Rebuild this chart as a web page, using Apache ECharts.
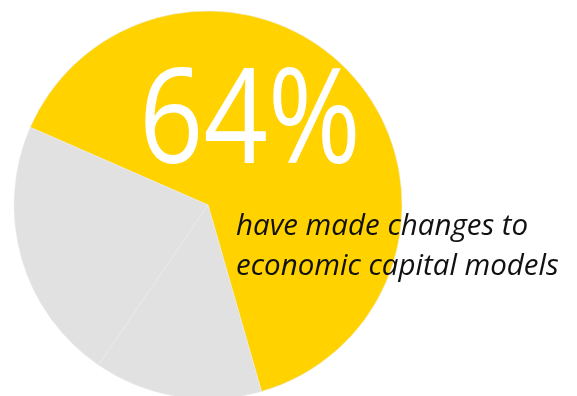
<!DOCTYPE html>
<html>
<head>
<meta charset="utf-8">
<script src="https://cdn.jsdelivr.net/npm/echarts@6/dist/echarts.min.js"></script>
<style>
  html, body { margin: 0; padding: 0; background: #ffffff; }
  #chart { width: 577px; height: 396px; }
</style>
</head>
<body>
<div id="chart"></div>
<script>
// Share of respondents (percent)
const categories = ['Made changes', 'Other A', 'Other B'];
const values = [64, 14, 22];
const colors = ['#FFD200', '#E1E1E1', '#E1E1E1'];
const headline = '64%';
const caption = ['have made changes to', 'economic capital models'];

const chart = echarts.init(document.getElementById('chart'), null, { renderer: 'canvas' });

chart.setOption({
  animation: false,
  backgroundColor: '#ffffff',
  series: [{
    type: 'pie',
    z: 1,
    center: [208, 205],
    radius: 194,
    startAngle: 156.4,
    clockwise: true,
    silent: true,
    label: { show: false },
    labelLine: { show: false },
    itemStyle: { borderColor: '#ececec', borderWidth: 0.5 },
    data: categories.map((name, i) => ({
      name,
      value: values[i],
      itemStyle: { color: colors[i] }
    }))
  }],
  graphic: [
    {
      type: 'text',
      z: 100,
      x: 139,
      y: 60,
      scaleX: 0.86,
      style: {
        text: headline,
        fill: '#ffffff',
        font: '400 131px "Open Sans"'
      }
    },
    {
      type: 'text',
      z: 100,
      left: 236,
      top: 207,
      style: {
        text: caption.join('\n'),
        fill: '#111111',
        font: 'italic 400 29.5px "Open Sans"',
        lineHeight: 40
      }
    }
  ]
});
</script>
</body>
</html>
